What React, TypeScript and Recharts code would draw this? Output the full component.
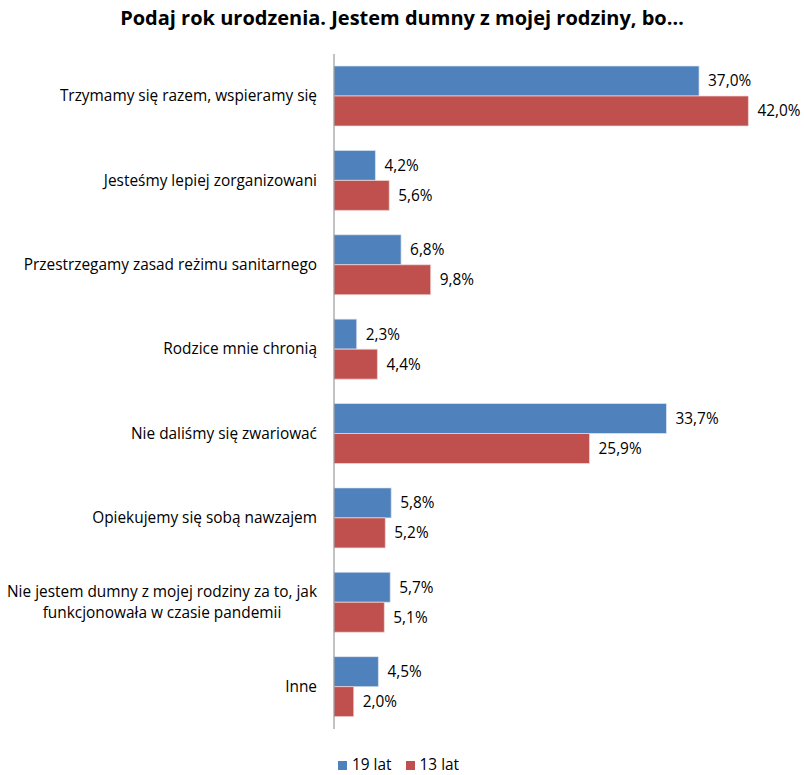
import { Bar, BarChart, LabelList, XAxis, YAxis } from "recharts"

const categories = [
  "Trzymamy się razem, wspieramy się",
  "Jesteśmy lepiej zorganizowani",
  "Przestrzegamy zasad reżimu sanitarnego",
  "Rodzice mnie chronią",
  "Nie daliśmy się zwariować",
  "Opiekujemy się sobą nawzajem",
  "Nie jestem dumny z mojej rodziny za to, jak\nfunkcjonowała w czasie pandemii",
  "Inne",
]
const lat19 = [37.0, 4.2, 6.8, 2.3, 33.7, 5.8, 5.7, 4.5]
const lat13 = [42.0, 5.6, 9.8, 4.4, 25.9, 5.2, 5.1, 2.0]

const data = categories.map((name, i) => ({ name, lat19: lat19[i], lat13: lat13[i] }))

const FONT = "'Open Sans', Lato, sans-serif"
const FS = 15.4
const BLUE = "#4F81BD"
const RED = "#C0504D"

let ctx: CanvasRenderingContext2D | null = null
function measure(text: string) {
  if (!ctx) ctx = document.createElement("canvas").getContext("2d")
  if (!ctx) return text.length * 7.7
  ctx.font = `${FS}px ${FONT}`
  return ctx.measureText(text).width
}

function CategoryTick(props: any) {
  const { x, y, payload } = props
  const lines: string[] = String(payload.value).split("\n")
  if (lines.length === 1) {
    return (
      <text x={x} y={y} dy={5} textAnchor="end" fontSize={FS} fontFamily={FONT} fill="#000">
        {lines[0]}
      </text>
    )
  }
  const w = Math.max(...lines.map(measure))
  const cx = x - w / 2
  return (
    <text x={cx} y={y} textAnchor="middle" fontSize={FS} fontFamily={FONT} fill="#000">
      {lines.map((l, i) => (
        <tspan key={i} x={cx} y={y + 5 + (i - (lines.length - 1) / 2) * 21}>
          {l}
        </tspan>
      ))}
    </text>
  )
}

const fmt = (v: any) => `${Number(v).toFixed(1).replace(".", ",")}%`

const legendItems = [
  { label: "19 lat", color: BLUE },
  { label: "13 lat", color: RED },
]

export default function App() {
  return (
    <div style={{ position: "absolute", left: 0, top: 0, width: 804, height: 775, background: "#fff" }}>
      <div
        style={{
          position: "absolute",
          top: 4,
          left: 0,
          width: 804,
          textAlign: "center",
          fontFamily: FONT,
          fontWeight: 700,
          fontSize: 20,
          color: "#000",
        }}
      >
        Podaj rok urodzenia. Jestem dumny z mojej rodziny, bo…
      </div>
      <BarChart
        width={804}
        height={775}
        data={data}
        layout="vertical"
        margin={{ top: 54, right: 26, bottom: 46, left: 0 }}
        barGap={0}
        barSize={30}
      >
        <XAxis type="number" domain={[0, 45]} hide />
        <YAxis
          type="category"
          dataKey="name"
          width={334}
          tickLine={false}
          tickSize={0}
          tickMargin={17}
          axisLine={{ stroke: "#868686" }}
          tick={<CategoryTick />}
          interval={0}
        />
        <Bar dataKey="lat19" name="19 lat" fill={BLUE} stroke="#dfe7f1" strokeWidth={0.7} isAnimationActive={false}>
          <LabelList dataKey="lat19" position="right" offset={9} formatter={fmt} fontSize={FS} fontFamily={FONT} fill="#000" />
        </Bar>
        <Bar dataKey="lat13" name="13 lat" fill={RED} stroke="#f0dcdb" strokeWidth={0.7} isAnimationActive={false}>
          <LabelList dataKey="lat13" position="right" offset={9} formatter={fmt} fontSize={FS} fontFamily={FONT} fill="#000" />
        </Bar>
      </BarChart>
      <div
        style={{
          position: "absolute",
          top: 754,
          left: 338,
          display: "flex",
          gap: 14,
          fontFamily: FONT,
          fontSize: FS,
          color: "#000",
          lineHeight: "22px",
        }}
      >
        {legendItems.map((it) => (
          <div key={it.label} style={{ display: "flex", alignItems: "center", gap: 5 }}>
            <span style={{ width: 9, height: 9, background: it.color, display: "inline-block" }} />
            <span>{it.label}</span>
          </div>
        ))}
      </div>
    </div>
  )
}
